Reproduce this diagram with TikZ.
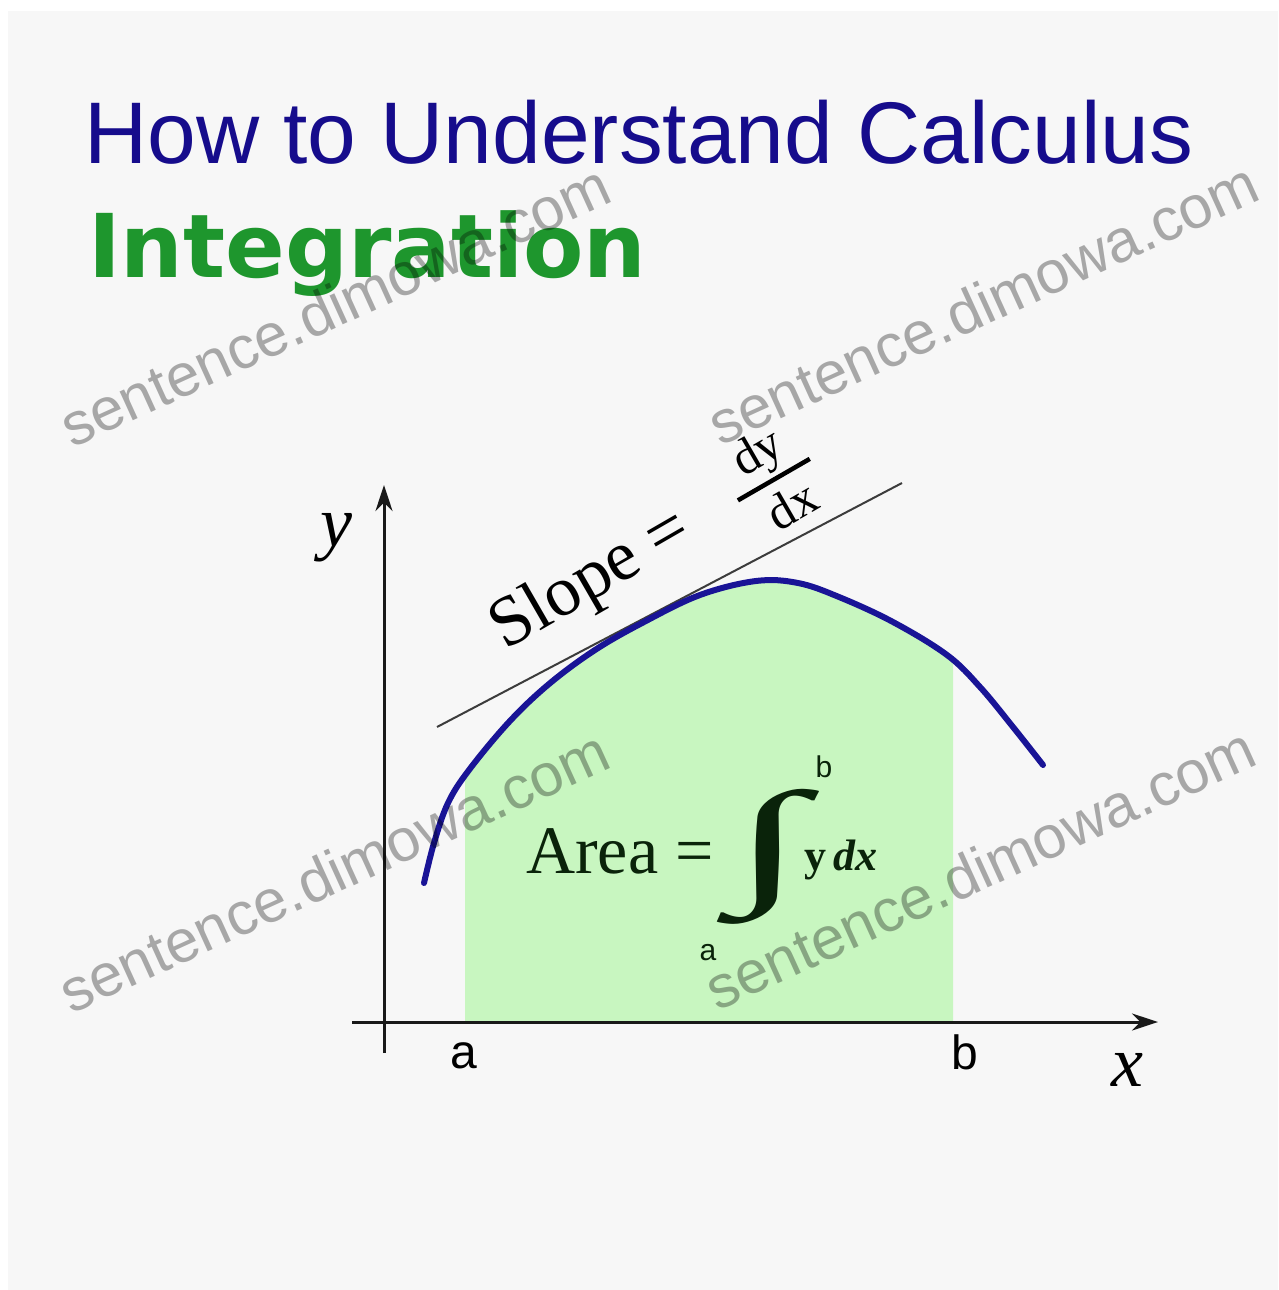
\documentclass[tikz,border=0pt]{standalone}
\usepackage{fontspec}
\usepackage{graphicx}
\setmainfont{Liberation Serif}
\newfontfamily\arialf{Liberation Sans}
\newfontfamily\dejavuf{DejaVu Sans}
\usetikzlibrary{arrows.meta}
\newcommand{\myfs}[1]{\fontsize{#1}{#1}\selectfont}
\definecolor{bgc}{RGB}{247,247,247}
\definecolor{navy}{RGB}{22,12,140}
\definecolor{intgreen}{RGB}{30,150,45}
\definecolor{areafill}{RGB}{200,246,192}
\definecolor{curveblue}{RGB}{25,20,150}
\definecolor{inkgreen}{RGB}{10,35,10}
\definecolor{axisc}{RGB}{25,25,25}
\definecolor{tangc}{RGB}{60,60,60}
\tikzset{
  axisline/.style={axisc, line width=3pt, -{Stealth[length=26pt,width=17pt]}},
  lbl/.style={inner sep=0pt},
  wm/.style={inner sep=0pt, font=\arialf\myfs{60}, text=black, text opacity=0.32, rotate=24.5},
}
\begin{document}
\begin{tikzpicture}[x=1pt, y=-1pt]
\useasboundingbox (0,0) rectangle (1278,1290);
\fill[white] (0,0) rectangle (1278,1290);
\fill[bgc] (8,11) rectangle (1278,1290);

% titles
\node[lbl, anchor=base west, text=navy, font=\arialf\myfs{87.5}] (title) at (84,163) {How to Understand Calculus};
\node[lbl, anchor=base west, text=intgreen, font=\dejavuf\bfseries\myfs{88}] (subtitle) at (88,277) {Integration};

% area under the curve
\begin{scope}
\clip (465,0) rectangle (953,1022);
\fill[areafill] plot[smooth, tension=0.6] coordinates {(424,883) (434,843) (448,803) (469,770) (509,722) (549,684) (595,650) (644,622) (700,595) (756,581) (798,583) (839,597) (893,622) (947,655) (980,687) (1013,727) (1043,765)} -- (1043,1030) -- (424,1030) -- cycle;
\end{scope}

% axes
\coordinate (ybot) at (384,1053);
\coordinate (ytop) at (384,485);
\coordinate (xleft) at (352,1022);
\coordinate (xright) at (1158,1022);
\draw[axisline] (ybot) -- (ytop);
\draw[axisline] (xleft) -- (xright);

% tangent line
\coordinate (tan1) at (437,727);
\coordinate (tan2) at (902,483);
\draw[tangc, line width=2pt] (tan1) -- (tan2);

% curve
\draw[curveblue, line width=6pt, line cap=round] plot[smooth, tension=0.6] coordinates {(424,883) (434,843) (448,803) (469,770) (509,722) (549,684) (595,650) (644,622) (700,595) (756,581) (798,583) (839,597) (893,622) (947,655) (980,687) (1013,727) (1043,765)};

% axis labels
\node[lbl, font=\itshape\myfs{72}] (ylab) at (336,538) {y};
\node[lbl, font=\itshape\myfs{72}] (xlab) at (1127,1070) {x};
\node[lbl, font=\arialf\myfs{48}] (alab) at (464,1056) {a};
\node[lbl, font=\arialf\myfs{48}] (blab) at (965,1052) {b};

% slope text
\begin{scope}[shift={(505,651)}, rotate=30, transform shape]
\node[lbl, anchor=base west, font=\myfs{71}] (slope) at (0,0) {Slope =};
\node[lbl, anchor=base, font=\myfs{50}] (dy) at (318,-31) {dy};
\node[lbl, anchor=base, font=\myfs{50}] (dx) at (321,34) {dx};
\draw[line width=4.5pt] (277,-14) -- (360,-14);
\end{scope}

% area formula
\node[lbl, anchor=base west, font=\myfs{68}, text=inkgreen] (area) at (526,873) {Area =};
\node[lbl, text=inkgreen] (integral) at (769,857) {\resizebox*{74pt}{135pt}{∫}};
\node[lbl, font=\arialf\myfs{30}, text=inkgreen] (ub) at (824,767) {b};
\node[lbl, font=\arialf\myfs{30}, text=inkgreen] (lb) at (708,953) {a};
\node[lbl, anchor=base west, font=\myfs{44}, text=inkgreen] (ydx) at (804,870) {\textbf{y}\,\textbf{\textit{dx}}};

% watermarks
\node[wm] (wm1) at (335,305) {sentence.dimowa.com};
\node[wm] (wm2) at (983,303) {sentence.dimowa.com};
\node[wm] (wm3) at (334,871) {sentence.dimowa.com};
\node[wm] (wm4) at (980,868) {sentence.dimowa.com};
\end{tikzpicture}
\end{document}
